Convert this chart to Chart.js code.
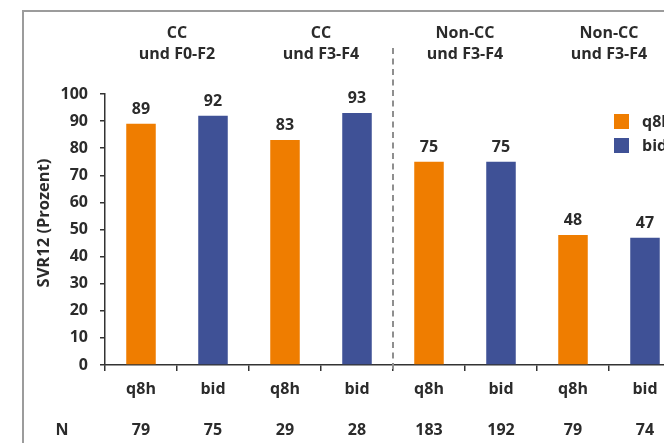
<!DOCTYPE html>
<html>
<head>
<meta charset="utf-8">
<script src="https://cdn.jsdelivr.net/npm/chart.js@4/dist/chart.umd.min.js"></script>
<style>
  body { margin: 0; overflow: hidden; background: #fff; }
  #chart { display: block; }
</style>
</head>
<body>
<canvas id="chart" width="720" height="443"></canvas>
<script>
// dosing regimen per bar, SVR12 rate and patient count
const categories = ["q8h", "bid", "q8h", "bid", "q8h", "bid", "q8h", "bid"];
const svrValues = [89, 92, 83, 93, 75, 75, 48, 47];
const nValues = [79, 75, 29, 28, 183, 192, 79, 74];
const groupTitles = [
  ["CC", "und F0-F2"],
  ["CC", "und F3-F4"],
  ["Non-CC", "und F3-F4"],
  ["Non-CC", "und F3-F4"]
];
const yTicks = [0, 10, 20, 30, 40, 50, 60, 70, 80, 90, 100];
const yTitle = "SVR12 (Prozent)";

const orange = "#ef7d00";
const blue = "#3f5196";
const textColor = "#2b2b2b";
const fontFamily = "'Open Sans', sans-serif";

function seriesFor(name)
{
  return svrValues.map((v, i) => categories[i] === name ? v : null);
}

// frame, axis title, group headings, separator, N row, value labels and legend
const extras = {
  id: "extras",
  beforeDraw(chart)
  {
    const ctx = chart.ctx;
    ctx.save();
    ctx.strokeStyle = "#9c9c9c";
    ctx.lineWidth = 2;
    ctx.strokeRect(23, 11, 1000, 1000);
    ctx.restore();
  },
  afterDraw(chart)
  {
    const ctx = chart.ctx;
    const x = chart.scales.x;
    const area = chart.chartArea;
    ctx.save();

    ctx.fillStyle = textColor;
    ctx.textAlign = "center";
    ctx.textBaseline = "middle";

    // y axis title
    ctx.save();
    ctx.translate(44, 223);
    ctx.rotate(-Math.PI / 2);
    ctx.font = "bold 16.5px " + fontFamily;
    ctx.fillText(yTitle, 0, 0);
    ctx.restore();

    // group headings above each pair of bars
    ctx.font = "bold 16px " + fontFamily;
    groupTitles.forEach((lines, g) =>
    {
      let cx = (x.getPixelForTick(g * 2) + x.getPixelForTick(g * 2 + 1)) / 2;
      ctx.fillText(lines[0], cx, 33);
      ctx.fillText(lines[1], cx, 54);
    });

    // dashed separator between CC and Non-CC
    let sx = (x.getPixelForTick(3) + x.getPixelForTick(4)) / 2;
    ctx.strokeStyle = "#8f8f8f";
    ctx.lineWidth = 2;
    ctx.setLineDash([6, 4.5]);
    ctx.beginPath();
    ctx.moveTo(sx, 48);
    ctx.lineTo(sx, area.bottom + 8);
    ctx.stroke();
    ctx.setLineDash([]);

    // value labels over the bars
    ctx.font = "bold 16px " + fontFamily;
    ctx.textBaseline = "alphabetic";
    chart.data.datasets.forEach((ds, d) =>
    {
      chart.getDatasetMeta(d).data.forEach((bar, i) =>
      {
        if (ds.data[i] === null) return;
        ctx.fillText(ds.data[i], bar.x, bar.y - 10);
      });
    });

    // patient numbers
    ctx.textBaseline = "middle";
    ctx.fillText("N", 62, 430);
    nValues.forEach((n, i) =>
    {
      ctx.fillText(n, x.getPixelForTick(i), 430);
    });

    // legend
    ctx.textAlign = "left";
    chart.data.datasets.forEach((ds, d) =>
    {
      let ly = 114 + d * 24;
      ctx.fillStyle = ds.backgroundColor;
      ctx.fillRect(614, ly, 15, 15);
      ctx.fillStyle = textColor;
      ctx.fillText(ds.label, 642, ly + 8);
    });

    ctx.restore();
  }
};

const $chart = document.querySelector("#chart");

new Chart($chart, {
  type: "bar",
  data: {
    labels: categories,
    datasets: [
      { label: "q8h", data: seriesFor("q8h"), backgroundColor: orange },
      { label: "bid", data: seriesFor("bid"), backgroundColor: blue }
    ]
  },
  options: {
    responsive: false,
    animation: false,
    layout: { padding: { left: 0, right: 39, top: 94, bottom: 0 } },
    datasets: { bar: { grouped: false, barPercentage: 0.41, categoryPercentage: 1 } },
    plugins: {
      legend: { display: false },
      tooltip: { enabled: false }
    },
    scales: {
      x: {
        afterFit(scale) { scale.height = 78; },
        border: { display: true, color: "#333", width: 1.5 },
        grid: { drawOnChartArea: false, color: "#333", tickLength: 6, lineWidth: 1.5 },
        ticks: { color: textColor, padding: 9, font: { family: fontFamily, size: 16, weight: "bold" } }
      },
      y: {
        min: 0,
        max: 100,
        afterFit(scale) { scale.width = 105; },
        afterBuildTicks(scale) { scale.ticks = yTicks.map(v => ({ value: v })); },
        border: { display: true, color: "#333", width: 1.5 },
        grid: { drawOnChartArea: false, color: "#333", tickLength: 5, lineWidth: 1.5 },
        ticks: { color: textColor, padding: 12, font: { family: fontFamily, size: 16, weight: "bold" } }
      }
    }
  },
  plugins: [extras]
});
</script>
</body>
</html>
